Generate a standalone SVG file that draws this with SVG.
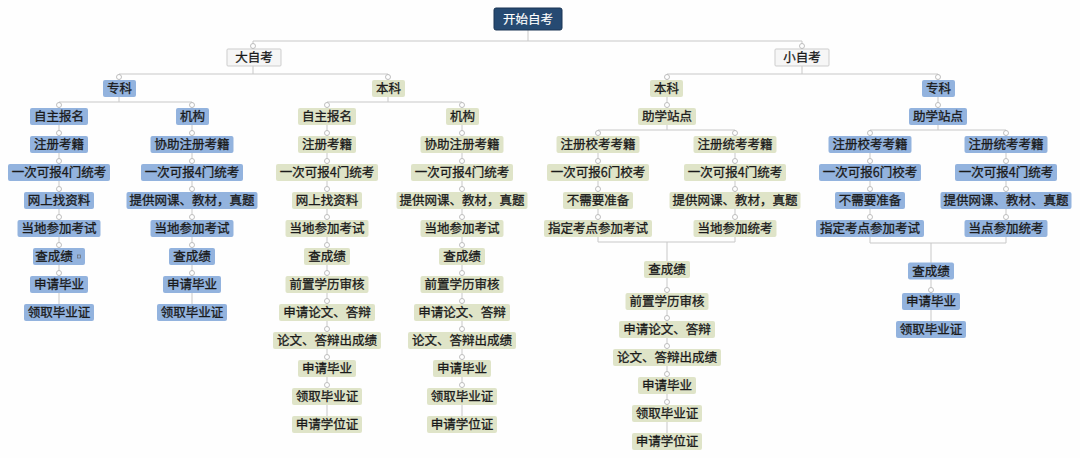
<svg xmlns="http://www.w3.org/2000/svg" xmlns:xlink="http://www.w3.org/1999/xlink" width="1080" height="458" viewBox="0 0 1080 458">
<style>
.ln{stroke:#c8c8c8;stroke-width:1;fill:none}
.b{fill:#93b3de}
.g{fill:#dfe4c8}
.h{fill:#f6f6f6;stroke:#cdcdcd;stroke-width:1}
.r{fill:#264a72;stroke:#1a3554;stroke-width:1}
text{font-family:"Noto Sans CJK SC","Noto Sans",sans-serif;font-size:12.5px;fill:#1a1a1a;stroke:#1a1a1a;stroke-width:0.3;text-anchor:middle}
text.w{fill:#ffffff;stroke:#ffffff;stroke-width:0.15}
.dot{fill:#ffffff;stroke:#b0b0b0;stroke-width:0.8}
</style>
<rect width="1080" height="458" fill="#fefefe"/>
<g id="connectors">
<path class="ln" d="M528 30V41M253 41H802M253 41V49M802 41V49"/>
<path class="ln" d="M253 66V74M119 74H388M119 74V80M388 74V80"/>
<path class="ln" d="M802 66V74M667 74H938M667 74V108M938 74V108"/>
<path class="ln" d="M119 97V102M59 102H192M388 97V102M327 102H462"/>
<path class="ln" d="M59 102V304M192 102V304M327 102V416M462 102V416"/>
<path class="ln" d="M667 125V130M598 130H735M598 130V242M735 130V242M598 242H735M667 242V433"/>
<path class="ln" d="M938 125V130M870 130H1006M870 130V243M1006 130V243M870 243H1006M931 243V321"/>
</g>
<g id="root"><rect class="r" x="494" y="8" width="68" height="22" rx="2"/><text class="w" x="528" y="23.5">开始自考</text></g>
<g id="dazikao"><rect class="h" x="227" y="49" width="54" height="17" rx="1"/><text x="254" y="62">大自考</text></g>
<g id="xiaozikao"><rect class="h" x="775" y="49" width="54" height="17" rx="1"/><text x="802" y="62">小自考</text></g>
<g id="da-zhuanke"><rect class="b" x="103" y="80" width="33" height="17" rx="2"/><text x="119.5" y="93">专科</text></g>
<g id="da-benke"><rect class="g" x="372" y="80" width="33" height="17" rx="2"/><text x="388.5" y="93">本科</text></g>
<g id="xiao-benke"><rect class="g" x="650" y="80" width="33" height="17" rx="2"/><text x="666.5" y="93">本科</text></g>
<g id="xiao-zhuanke"><rect class="b" x="922" y="80" width="33" height="17" rx="2"/><text x="938.5" y="93">专科</text></g>
<g id="a0"><rect class="b" x="30" y="108" width="58" height="17" rx="2"/><text x="59" y="121">自主报名</text></g>
<g id="b0"><rect class="b" x="176" y="108" width="33" height="17" rx="2"/><text x="192.5" y="121">机构</text></g>
<g id="c0"><rect class="g" x="298" y="108" width="58" height="17" rx="2"/><text x="327" y="121">自主报名</text></g>
<g id="d0"><rect class="g" x="446" y="108" width="33" height="17" rx="2"/><text x="462.5" y="121">机构</text></g>
<g id="xb0"><rect class="g" x="638" y="108" width="58" height="17" rx="2"/><text x="667" y="121">助学站点</text></g>
<g id="xz0"><rect class="b" x="909" y="108" width="58" height="17" rx="2"/><text x="938" y="121">助学站点</text></g>
<g id="a1"><rect class="b" x="30" y="136" width="58" height="17" rx="2"/><text x="59" y="149">注册考籍</text></g>
<g id="a2"><rect class="b" x="8" y="164" width="102" height="17" rx="2"/><text x="59" y="177">一次可报4门统考</text></g>
<g id="a3"><rect class="b" x="24" y="192" width="70" height="17" rx="2"/><text x="59" y="205">网上找资料</text></g>
<g id="a4"><rect class="b" x="17.5" y="220" width="83" height="17" rx="2"/><text x="59" y="233">当地参加考试</text></g>
<g id="a5"><rect class="b" x="33" y="248" width="52" height="17" rx="2"/><text x="54" y="261">查成绩</text><rect x="77.5" y="255" width="3" height="3" fill="none" stroke="#6a6a6a" stroke-width="0.7"/></g>
<g id="a6"><rect class="b" x="30" y="276" width="58" height="17" rx="2"/><text x="59" y="289">申请毕业</text></g>
<g id="a7"><rect class="b" x="24" y="304" width="70" height="17" rx="2"/><text x="59" y="317">领取毕业证</text></g>
<g id="b1"><rect class="b" x="150.5" y="136" width="83" height="17" rx="2"/><text x="192" y="149">协助注册考籍</text></g>
<g id="b2"><rect class="b" x="141" y="164" width="102" height="17" rx="2"/><text x="192" y="177">一次可报4门统考</text></g>
<g id="b3"><rect class="b" x="126.5" y="192" width="131" height="17" rx="2"/><text x="192" y="205">提供网课、教材，真题</text></g>
<g id="b4"><rect class="b" x="150.5" y="220" width="83" height="17" rx="2"/><text x="192" y="233">当地参加考试</text></g>
<g id="b5"><rect class="b" x="169" y="248" width="46" height="17" rx="2"/><text x="192" y="261">查成绩</text></g>
<g id="b6"><rect class="b" x="163" y="276" width="58" height="17" rx="2"/><text x="192" y="289">申请毕业</text></g>
<g id="b7"><rect class="b" x="157" y="304" width="70" height="17" rx="2"/><text x="192" y="317">领取毕业证</text></g>
<g id="c1"><rect class="g" x="298" y="136" width="58" height="17" rx="2"/><text x="327" y="149">注册考籍</text></g>
<g id="c2"><rect class="g" x="276" y="164" width="102" height="17" rx="2"/><text x="327" y="177">一次可报4门统考</text></g>
<g id="c3"><rect class="g" x="292" y="192" width="70" height="17" rx="2"/><text x="327" y="205">网上找资料</text></g>
<g id="c4"><rect class="g" x="285.5" y="220" width="83" height="17" rx="2"/><text x="327" y="233">当地参加考试</text></g>
<g id="c5"><rect class="g" x="304" y="248" width="46" height="17" rx="2"/><text x="327" y="261">查成绩</text></g>
<g id="c6"><rect class="g" x="285.5" y="276" width="83" height="17" rx="2"/><text x="327" y="289">前置学历审核</text></g>
<g id="c7"><rect class="g" x="279" y="304" width="96" height="17" rx="2"/><text x="327" y="317">申请论文、答辩</text></g>
<g id="c8"><rect class="g" x="273" y="332" width="108" height="17" rx="2"/><text x="327" y="345">论文、答辩出成绩</text></g>
<g id="c9"><rect class="g" x="298" y="360" width="58" height="17" rx="2"/><text x="327" y="373">申请毕业</text></g>
<g id="c10"><rect class="g" x="292" y="388" width="70" height="17" rx="2"/><text x="327" y="401">领取毕业证</text></g>
<g id="c11"><rect class="g" x="292" y="416" width="70" height="17" rx="2"/><text x="327" y="429">申请学位证</text></g>
<g id="d1"><rect class="g" x="420.5" y="136" width="83" height="17" rx="2"/><text x="462" y="149">协助注册考籍</text></g>
<g id="d2"><rect class="g" x="411" y="164" width="102" height="17" rx="2"/><text x="462" y="177">一次可报4门统考</text></g>
<g id="d3"><rect class="g" x="396.5" y="192" width="131" height="17" rx="2"/><text x="462" y="205">提供网课、教材，真题</text></g>
<g id="d4"><rect class="g" x="420.5" y="220" width="83" height="17" rx="2"/><text x="462" y="233">当地参加考试</text></g>
<g id="d5"><rect class="g" x="439" y="248" width="46" height="17" rx="2"/><text x="462" y="261">查成绩</text></g>
<g id="d6"><rect class="g" x="420.5" y="276" width="83" height="17" rx="2"/><text x="462" y="289">前置学历审核</text></g>
<g id="d7"><rect class="g" x="414" y="304" width="96" height="17" rx="2"/><text x="462" y="317">申请论文、答辩</text></g>
<g id="d8"><rect class="g" x="408" y="332" width="108" height="17" rx="2"/><text x="462" y="345">论文、答辩出成绩</text></g>
<g id="d9"><rect class="g" x="433" y="360" width="58" height="17" rx="2"/><text x="462" y="373">申请毕业</text></g>
<g id="d10"><rect class="g" x="427" y="388" width="70" height="17" rx="2"/><text x="462" y="401">领取毕业证</text></g>
<g id="d11"><rect class="g" x="427" y="416" width="70" height="17" rx="2"/><text x="462" y="429">申请学位证</text></g>
<g id="e1"><rect class="g" x="556.5" y="136" width="83" height="17" rx="2"/><text x="598" y="149">注册校考考籍</text></g>
<g id="e2"><rect class="g" x="547" y="164" width="102" height="17" rx="2"/><text x="598" y="177">一次可报6门校考</text></g>
<g id="e3"><rect class="g" x="563" y="192" width="70" height="17" rx="2"/><text x="598" y="205">不需要准备</text></g>
<g id="e4"><rect class="g" x="544" y="220" width="108" height="17" rx="2"/><text x="598" y="233">指定考点参加考试</text></g>
<g id="f1"><rect class="g" x="693.5" y="136" width="83" height="17" rx="2"/><text x="735" y="149">注册统考考籍</text></g>
<g id="f2"><rect class="g" x="684" y="164" width="102" height="17" rx="2"/><text x="735" y="177">一次可报4门统考</text></g>
<g id="f3"><rect class="g" x="669.5" y="192" width="131" height="17" rx="2"/><text x="735" y="205">提供网课、教材，真题</text></g>
<g id="f4"><rect class="g" x="693.5" y="220" width="83" height="17" rx="2"/><text x="735" y="233">当地参加统考</text></g>
<g id="g1"><rect class="g" x="644" y="261" width="46" height="17" rx="2"/><text x="667" y="274">查成绩</text></g>
<g id="g2"><rect class="g" x="625.5" y="293" width="83" height="17" rx="2"/><text x="667" y="306">前置学历审核</text></g>
<g id="g3"><rect class="g" x="619" y="321" width="96" height="17" rx="2"/><text x="667" y="334">申请论文、答辩</text></g>
<g id="g4"><rect class="g" x="613" y="349" width="108" height="17" rx="2"/><text x="667" y="362">论文、答辩出成绩</text></g>
<g id="g5"><rect class="g" x="638" y="377" width="58" height="17" rx="2"/><text x="667" y="390">申请毕业</text></g>
<g id="g6"><rect class="g" x="632" y="405" width="70" height="17" rx="2"/><text x="667" y="418">领取毕业证</text></g>
<g id="g7"><rect class="g" x="632" y="433" width="70" height="17" rx="2"/><text x="667" y="446">申请学位证</text></g>
<g id="h1"><rect class="b" x="828.5" y="136" width="83" height="17" rx="2"/><text x="870" y="149">注册校考考籍</text></g>
<g id="h2"><rect class="b" x="819" y="164" width="102" height="17" rx="2"/><text x="870" y="177">一次可报6门校考</text></g>
<g id="h3"><rect class="b" x="835" y="192" width="70" height="17" rx="2"/><text x="870" y="205">不需要准备</text></g>
<g id="h4"><rect class="b" x="816" y="220" width="108" height="17" rx="2"/><text x="870" y="233">指定考点参加考试</text></g>
<g id="i1"><rect class="b" x="964.5" y="136" width="83" height="17" rx="2"/><text x="1006" y="149">注册统考考籍</text></g>
<g id="i2"><rect class="b" x="955" y="164" width="102" height="17" rx="2"/><text x="1006" y="177">一次可报4门统考</text></g>
<g id="i3"><rect class="b" x="940.5" y="192" width="131" height="17" rx="2"/><text x="1006" y="205">提供网课、教材、真题</text></g>
<g id="i4"><rect class="b" x="964.5" y="220" width="83" height="17" rx="2"/><text x="1006" y="233">当点参加统考</text></g>
<g id="j1"><rect class="b" x="908" y="262.5" width="46" height="17" rx="2"/><text x="931" y="275.5">查成绩</text></g>
<g id="j2"><rect class="b" x="902" y="293" width="58" height="17" rx="2"/><text x="931" y="306">申请毕业</text></g>
<g id="j3"><rect class="b" x="896" y="321" width="70" height="17" rx="2"/><text x="931" y="334">领取毕业证</text></g>
<g id="collapse-dots">
<circle class="dot" cx="253" cy="46" r="2.5"/><circle class="dot" cx="802" cy="46" r="2.5"/>
<circle class="dot" cx="119" cy="77" r="2.5"/><circle class="dot" cx="388" cy="77" r="2.5"/><circle class="dot" cx="667" cy="77" r="2.5"/><circle class="dot" cx="938" cy="77" r="2.5"/>
<circle class="dot" cx="59" cy="105" r="2.5"/><circle class="dot" cx="192" cy="105" r="2.5"/><circle class="dot" cx="327" cy="105" r="2.5"/><circle class="dot" cx="462" cy="105" r="2.5"/><circle class="dot" cx="667" cy="105" r="2.5"/><circle class="dot" cx="938" cy="105" r="2.5"/>
<circle class="dot" cx="59" cy="133" r="2.5"/><circle class="dot" cx="59" cy="161" r="2.5"/><circle class="dot" cx="59" cy="189" r="2.5"/><circle class="dot" cx="59" cy="217" r="2.5"/><circle class="dot" cx="59" cy="245" r="2.5"/><circle class="dot" cx="59" cy="273" r="2.5"/>
<circle class="dot" cx="192" cy="133" r="2.5"/><circle class="dot" cx="192" cy="161" r="2.5"/><circle class="dot" cx="192" cy="189" r="2.5"/><circle class="dot" cx="192" cy="217" r="2.5"/><circle class="dot" cx="192" cy="245" r="2.5"/><circle class="dot" cx="192" cy="273" r="2.5"/>
<circle class="dot" cx="327" cy="133" r="2.5"/><circle class="dot" cx="327" cy="161" r="2.5"/><circle class="dot" cx="327" cy="189" r="2.5"/><circle class="dot" cx="327" cy="217" r="2.5"/><circle class="dot" cx="327" cy="245" r="2.5"/><circle class="dot" cx="327" cy="273" r="2.5"/><circle class="dot" cx="327" cy="301" r="2.5"/><circle class="dot" cx="327" cy="329" r="2.5"/><circle class="dot" cx="327" cy="357" r="2.5"/><circle class="dot" cx="327" cy="385" r="2.5"/>
<circle class="dot" cx="462" cy="133" r="2.5"/><circle class="dot" cx="462" cy="161" r="2.5"/><circle class="dot" cx="462" cy="189" r="2.5"/><circle class="dot" cx="462" cy="217" r="2.5"/><circle class="dot" cx="462" cy="245" r="2.5"/><circle class="dot" cx="462" cy="273" r="2.5"/><circle class="dot" cx="462" cy="301" r="2.5"/><circle class="dot" cx="462" cy="329" r="2.5"/><circle class="dot" cx="462" cy="357" r="2.5"/><circle class="dot" cx="462" cy="385" r="2.5"/>
<circle class="dot" cx="598" cy="133" r="2.5"/><circle class="dot" cx="598" cy="161" r="2.5"/><circle class="dot" cx="598" cy="189" r="2.5"/><circle class="dot" cx="598" cy="217" r="2.5"/>
<circle class="dot" cx="735" cy="133" r="2.5"/><circle class="dot" cx="735" cy="161" r="2.5"/><circle class="dot" cx="735" cy="189" r="2.5"/><circle class="dot" cx="735" cy="217" r="2.5"/>
<circle class="dot" cx="667" cy="290" r="2.5"/><circle class="dot" cx="667" cy="318" r="2.5"/><circle class="dot" cx="667" cy="346" r="2.5"/><circle class="dot" cx="667" cy="374" r="2.5"/><circle class="dot" cx="667" cy="402" r="2.5"/>
<circle class="dot" cx="870" cy="133" r="2.5"/><circle class="dot" cx="870" cy="161" r="2.5"/><circle class="dot" cx="870" cy="189" r="2.5"/><circle class="dot" cx="870" cy="217" r="2.5"/>
<circle class="dot" cx="1006" cy="133" r="2.5"/><circle class="dot" cx="1006" cy="161" r="2.5"/><circle class="dot" cx="1006" cy="189" r="2.5"/><circle class="dot" cx="1006" cy="217" r="2.5"/>
<circle class="dot" cx="931" cy="290" r="2.5"/>
</g>
</svg>
